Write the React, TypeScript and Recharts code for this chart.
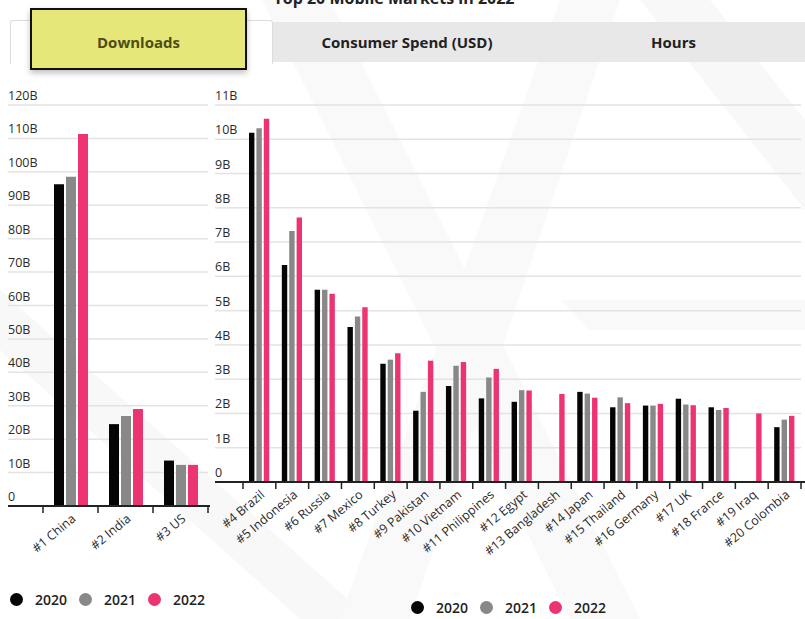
import { BarChart, Bar, XAxis, YAxis, CartesianGrid } from "recharts";

const topMarkets = ["#1 China", "#2 India", "#3 US"];
const top2020 = [96.3, 24.5, 13.6];
const top2021 = [98.5, 26.9, 12.3];
const top2022 = [111.3, 29.0, 12.3];
const topTicks = [0, 10, 20, 30, 40, 50, 60, 70, 80, 90, 100, 110, 120];

const otherMarkets = [
  "#4 Brazil", "#5 Indonesia", "#6 Russia", "#7 Mexico", "#8 Turkey", "#9 Pakistan",
  "#10 Vietnam", "#11 Philippines", "#12 Egypt", "#13 Bangladesh", "#14 Japan",
  "#15 Thailand", "#16 Germany", "#17 UK", "#18 France", "#19 Iraq", "#20 Colombia",
];
const other2020 = [10.19, 6.33, 5.61, 4.52, 3.45, 2.08, 2.8, 2.44, 2.34, null, 2.63, 2.18, 2.23, 2.43, 2.18, null, 1.6];
const other2021 = [10.32, 7.32, 5.61, 4.83, 3.57, 2.63, 3.39, 3.05, 2.68, null, 2.58, 2.47, 2.23, 2.26, 2.1, null, 1.82];
const other2022 = [10.6, 7.72, 5.49, 5.1, 3.76, 3.54, 3.5, 3.3, 2.67, 2.57, 2.46, 2.3, 2.28, 2.24, 2.16, 2.0, 1.93];
const otherTicks = [0, 1, 2, 3, 4, 5, 6, 7, 8, 9, 10, 11];

const years = ["2020", "2021", "2022"];
const colors = ["#050505", "#888888", "#ec3470"];

const FONT = "'Open Sans', sans-serif";
const GRID = "#e3e3e3";

const topData = topMarkets.map((name, i) => ({ name, y2020: top2020[i], y2021: top2021[i], y2022: top2022[i] }));
const otherData = otherMarkets.map((name, i) => ({ name, y2020: other2020[i], y2021: other2021[i], y2022: other2022[i] }));

const fmt = (v: number) => (v === 0 ? "0" : `${v}B`);

const yTick = (labelX: number, plotLeft: number) => (props: any) => {
  const { y, payload } = props;
  const zero = payload.value === 0;
  return (
    <g>
      <line x1={labelX} x2={plotLeft} y1={y} y2={y} stroke={zero ? "#222" : GRID} strokeWidth={zero ? 2 : 1.5} />
      <text x={labelX} y={y - 5} fontSize={12.5} fill="#2a2a2a" fontFamily={FONT}>
        {fmt(payload.value)}
      </text>
    </g>
  );
};

const xTick = (bw: number, last: string, extend: number) => (props: any) => {
  const { x, y, payload } = props;
  const isLast = payload.value === last;
  return (
    <g>
      <line x1={x - bw / 2} x2={x - bw / 2} y1={y} y2={y + 7} stroke="#222" strokeWidth={1.5} />
      {isLast && <line x1={x + bw / 2} x2={x + bw / 2} y1={y} y2={y + 7} stroke="#222" strokeWidth={1.5} />}
      {isLast && extend > 0 && <line x1={x + bw / 2} x2={x + bw / 2 + extend} y1={y} y2={y} stroke="#222" strokeWidth={2} />}
      <text
        transform={`translate(${x + 6},${y + 14}) rotate(-40)`}
        textAnchor="end"
        fontSize={12.5}
        fill="#2a2a2a"
        fontFamily={FONT}
      >
        {payload.value}
      </text>
    </g>
  );
};

function YearLegend({ left, top }: { left: number; top: number }) {
  return (
    <div style={{ position: "absolute", left, top, display: "flex", alignItems: "center", fontFamily: FONT, fontSize: 14, fontWeight: 600, color: "#222" }}>
      {years.map((yr, i) => (
        <div key={yr} style={{ display: "flex", alignItems: "center", marginRight: 12 }}>
          <span style={{ width: 13, height: 13, borderRadius: "50%", background: colors[i], marginRight: 12 }} />
          <span>{yr}</span>
        </div>
      ))}
    </div>
  );
}

export default function App() {
  const tabText = { fontFamily: FONT, fontSize: 15, fontWeight: 700, color: "#222" } as const;
  return (
    <div style={{ position: "absolute", left: 0, top: 0, width: 805, height: 619, background: "#fff", overflow: "hidden" }}>
      {/* faint watermark */}
      <svg width={805} height={619} style={{ position: "absolute", left: 0, top: 0 }}>
        <polygon points="0,290 0,350 300,619 370,619" fill="#f8f8f8" />
        <polygon points="262,0 330,0 640,619 570,619" fill="#f9f9f9" />
        <polygon points="560,0 620,0 410,619 340,619" fill="#f9f9f9" />
        <polygon points="560,300 805,300 805,330 590,330" fill="#f9f9f9" />
        <polygon points="640,0 710,0 805,120 805,210" fill="#f8f8f8" />
        <text x={394} y={4} textAnchor="middle" fontFamily={FONT} fontSize={16} fontWeight={700} fill="#222">
          Top 20 Mobile Markets in 2022
        </text>
      </svg>

      <div style={{ position: "absolute", left: 272, top: 22, width: 533, height: 40, background: "#e8e8e8" }} />
      <div style={{ position: "absolute", left: 10, top: 20, width: 261, height: 43, background: "#fff", border: "1px solid #dcdcdc", borderBottom: "none", borderRadius: "3px 3px 0 0" }} />
      <div style={{ ...tabText, position: "absolute", left: 272, width: 270, top: 32, textAlign: "center" }}>Consumer Spend (USD)</div>
      <div style={{ ...tabText, position: "absolute", left: 542, width: 263, top: 32, textAlign: "center" }}>Hours</div>
      <div
        style={{
          position: "absolute", left: 30, top: 8, width: 213, height: 58, background: "#e6e779",
          border: "2px solid #111", boxShadow: "0 3px 6px rgba(0,0,0,0.25)",
        }}
      />
      <div style={{ ...tabText, color: "#4d4d14", position: "absolute", left: 30, width: 217, top: 32, textAlign: "center" }}>Downloads</div>

      <div style={{ position: "absolute", left: 0, top: 0 }}>
        <BarChart width={230} height={619} data={topData} margin={{ top: 105, right: 22, bottom: 53, left: 8 }} barSize={10} barGap={2}>
          <CartesianGrid vertical={false} stroke={GRID} strokeWidth={1.5} />
          <YAxis
            width={35}
            domain={[0, 120]}
            ticks={topTicks}
            axisLine={false}
            tickLine={false}
            tick={yTick(8, 43)}
          />
          <XAxis
            dataKey="name"
            height={60}
            interval={0}
            tickSize={0}
            tickMargin={0}
            axisLine={{ stroke: "#222", strokeWidth: 2 }}
            tickLine={false}
            tick={xTick(55, topMarkets[topMarkets.length - 1], 2)}
          />
          <Bar dataKey="y2020" fill={colors[0]} isAnimationActive={false} />
          <Bar dataKey="y2021" fill={colors[1]} isAnimationActive={false} />
          <Bar dataKey="y2022" fill={colors[2]} isAnimationActive={false} />
        </BarChart>
      </div>

      <div style={{ position: "absolute", left: 200, top: 0 }}>
        <BarChart width={605} height={619} data={otherData} margin={{ top: 105, right: 4, bottom: 67, left: 15 }} barSize={5.4} barGap={2}>
          <CartesianGrid vertical={false} stroke={GRID} strokeWidth={1.5} />
          <YAxis
            width={28}
            domain={[0, 11]}
            ticks={otherTicks}
            axisLine={false}
            tickLine={false}
            tick={yTick(15, 43)}
          />
          <XAxis
            dataKey="name"
            height={70}
            interval={0}
            tickSize={0}
            tickMargin={0}
            axisLine={{ stroke: "#222", strokeWidth: 2 }}
            tickLine={false}
            tick={xTick(558 / 17, otherMarkets[otherMarkets.length - 1], 4)}
          />
          <Bar dataKey="y2020" fill={colors[0]} isAnimationActive={false} />
          <Bar dataKey="y2021" fill={colors[1]} isAnimationActive={false} />
          <Bar dataKey="y2022" fill={colors[2]} isAnimationActive={false} />
        </BarChart>
      </div>

      <YearLegend left={10} top={590} />
      <YearLegend left={411} top={598} />
    </div>
  );
}
